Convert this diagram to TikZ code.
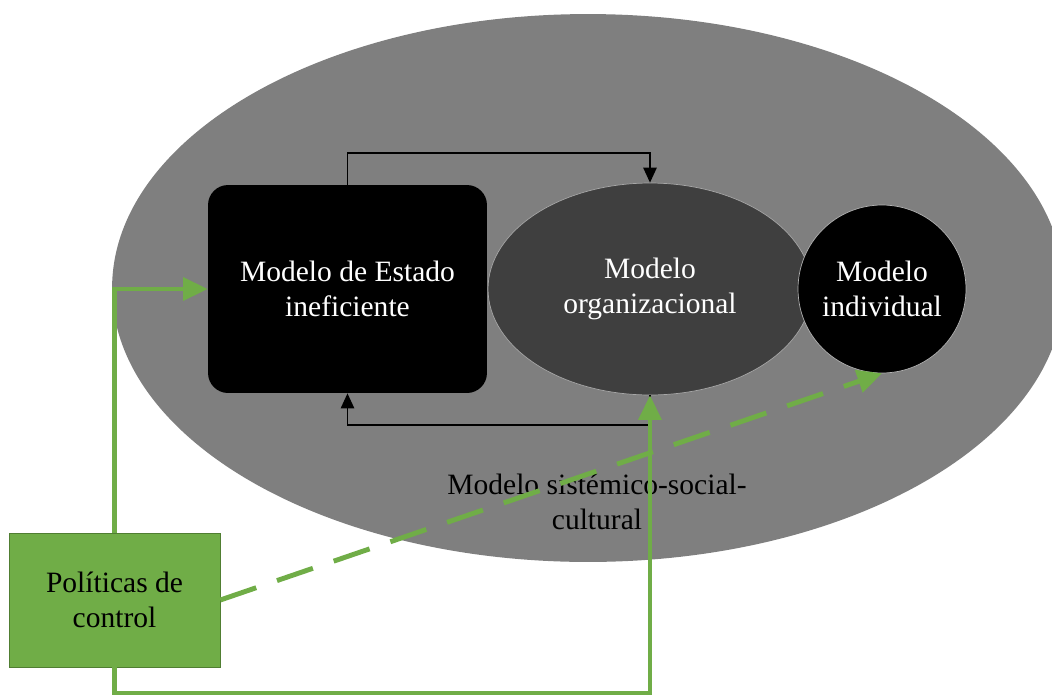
\documentclass[tikz,border=0pt]{standalone}
\usepackage{fontspec}
\setmainfont{Liberation Serif}
\usetikzlibrary{shapes.geometric,arrows.meta}
\definecolor{verde}{HTML}{70AD47}
\definecolor{verdeosc}{HTML}{507E32}
\definecolor{grisclaro}{HTML}{7F7F7F}
\definecolor{grisosc}{HTML}{3F3F3F}

\begin{document}
\begin{tikzpicture}[x=0.02cm,y=-0.02cm,
        txt/.style={font=\fontsize{16.8}{19.9}\selectfont, align=center},
        flecha/.style={line width=1.1pt, -{Triangle[length=8.5pt,width=7.5pt]}},
        verdeflecha/.style={verde, line width=2.3pt, -{Triangle[length=14pt,width=13pt]}}]
        \useasboundingbox (0,0) rectangle (1052,697);
        \clip (0,0) rectangle (1052,697);
        \node[ellipse, fill=grisclaro, minimum width=19.04cm, minimum height=10.96cm, inner sep=0pt](sis) at (588,288) {};
        \node[txt](sistxt) at (597,502) {Modelo sistémico-social-\\cultural};
        \node[txt, text=white, fill=black, rounded corners=0.4cm, minimum width=5.58cm, minimum height=4.16cm](est) at (347.5,289) {Modelo de Estado\\ineficiente};
        \node[txt, text=white, ellipse, fill=grisosc, draw=gray!70, line width=0.4pt, minimum width=6.48cm, minimum height=4.24cm](org) at (650,289) {Modelo\\organizacional};
        \node[txt, text=white, circle, fill=black, draw=gray!60, line width=0.4pt, minimum size=3.36cm, inner sep=0pt](ind) at (882,289) {Modelo\\individual};
        \node[txt, fill=verde, draw=verdeosc, minimum width=4.22cm, minimum height=2.68cm](pol) at (114.5,600) {Políticas de\\control};
        \draw[flecha](est.north) -- ++(0,-32) -| (org.north);
        \draw[flecha](org.south) -- ++(0,30) -| (est.south);
        \draw[verdeflecha](pol.north) |- (est.west);
        \draw[verdeflecha](pol.south) -- ++(0,26) -| (org.south);
        \draw[verdeflecha, line width=2.8pt, dash pattern=on 21.6pt off 12.5pt](pol.east) -- (ind.south);
\end{tikzpicture}
\end{document}
